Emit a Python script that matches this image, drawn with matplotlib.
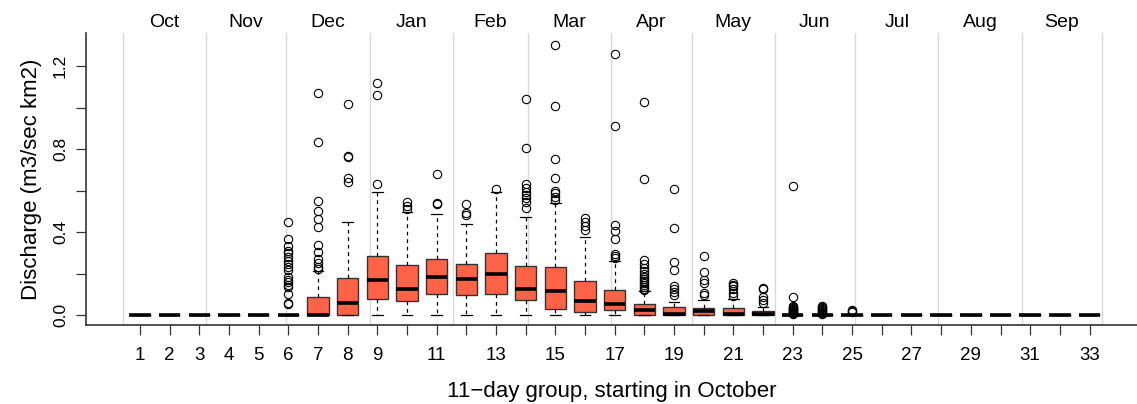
import numpy as np
import matplotlib
matplotlib.use('Agg')
from matplotlib import pyplot as plt

plt.rcParams['font.family'] = ['Liberation Sans', 'DejaVu Sans']

# 11-day groups, values (m3/sec km2)
groups = list(range(1, 34))
q1 = [0]*7 + [0.0, 0.077, 0.067, 0.103, 0.096, 0.100, 0.071, 0.029, 0.017, 0.024, 0.0, 0.0, 0.0, 0.0, 0.0] + [0]*11
med = [0]*7 + [0.056, 0.169, 0.124, 0.182, 0.173, 0.198, 0.124, 0.117, 0.067, 0.051, 0.024, 0.005, 0.019, 0.004, 0.003] + [0]*11
q3 = [0]*6 + [0.088, 0.180, 0.284, 0.239, 0.271, 0.247, 0.300, 0.236, 0.233, 0.164, 0.119, 0.051, 0.037, 0.032, 0.034, 0.020] + [0]*11
whis_hi = [0]*6 + [0.214, 0.447, 0.593, 0.495, 0.485, 0.439, 0.593, 0.473, 0.538, 0.377, 0.262, 0.116, 0.064, 0.072, 0.078, 0.040] + [0]*11

outliers = {
    6: [0.447, 0.365, 0.334, 0.310, 0.297, 0.281, 0.262, 0.244, 0.233, 0.215, 0.185, 0.169, 0.158, 0.145, 0.136, 0.100, 0.059, 0.053],
    7: [1.071, 0.835, 0.551, 0.503, 0.461, 0.426, 0.337, 0.305, 0.270, 0.249, 0.230, 0.220],
    8: [1.017, 0.766, 0.763, 0.659, 0.643],
    9: [1.120, 1.060, 0.631],
    10: [0.546, 0.525, 0.510],
    11: [0.678, 0.541, 0.537],
    12: [0.534, 0.493, 0.484],
    13: [0.610],
    14: [1.043, 0.805, 0.630, 0.612, 0.595, 0.580, 0.565, 0.546, 0.515],
    15: [1.304, 1.006, 0.754, 0.663, 0.600, 0.590, 0.570, 0.554],
    16: [0.467, 0.448, 0.430, 0.410],
    17: [1.261, 0.911, 0.434, 0.405, 0.365, 0.294, 0.284, 0.276],
    18: [1.027, 0.655, 0.265, 0.245, 0.225, 0.210, 0.200, 0.185, 0.175, 0.165, 0.155, 0.145, 0.136, 0.128, 0.122],
    19: [0.606, 0.418, 0.257, 0.217, 0.141, 0.128, 0.112, 0.096],
    20: [0.286, 0.209, 0.169, 0.156, 0.108, 0.096],
    21: [0.156, 0.146, 0.138, 0.124, 0.104, 0.091],
    22: [0.132, 0.128, 0.088, 0.072, 0.056],
    23: [0.622, 0.088, 0.045, 0.040, 0.035, 0.030, 0.027, 0.024, 0.020, 0.017, 0.014, 0.011, 0.008, 0.005],
    24: [0.045, 0.040, 0.035, 0.030, 0.025, 0.020, 0.015, 0.010, 0.005],
    25: [0.024, 0.020, 0.016],
}

months = ['Oct', 'Nov', 'Dec', 'Jan', 'Feb', 'Mar', 'Apr', 'May', 'Jun', 'Jul', 'Aug', 'Sep']
month_days = [31, 30, 31, 31, 28, 31, 30, 31, 30, 31, 31, 30]

stats = []
for i, g in enumerate(groups):
    stats.append(dict(med=med[i], q1=q1[i], q3=q3[i], whislo=0.0, whishi=whis_hi[i],
                      fliers=outliers.get(g, [])))

fig = plt.figure(figsize=(11.37, 4.04), dpi=100)
ax = fig.add_axes([86/1137, 1-325/404, 1-86/1137, (325-33)/404])

# month separators
start = 0.42
scale = 33.0/365
bounds = start + scale*np.concatenate([[0], np.cumsum(month_days)])
for b in bounds:
    ax.axvline(b, color='#d9d9d9', lw=1, zorder=0)
for m, a, b in zip(months, bounds[:-1], bounds[1:]):
    ax.text((a+b)/2, 1.008, m, transform=ax.get_xaxis_transform(), ha='center', va='bottom',
            fontsize=14, clip_on=False)

ax.bxp(stats, positions=groups, widths=0.72, capwidths=0.36, patch_artist=True,
       boxprops=dict(facecolor='#FF6347', edgecolor='#333333', lw=1),
       medianprops=dict(color='black', lw=2.6, solid_capstyle='butt'),
       whiskerprops=dict(color='black', lw=0.9, linestyle=(0, (3, 3))),
       capprops=dict(color='black', lw=0.9),
       flierprops=dict(marker='o', markerfacecolor='none', markeredgecolor='black',
                       markersize=6, markeredgewidth=0.8))

ax.set_xlim(-0.82, 34.6)
ax.set_ylim(-0.048, 1.36)
ax.set_xticks(groups)
ax.set_xticklabels([str(g) if (g <= 9 or g % 2 == 1) else '' for g in groups], fontsize=13.5)
ax.set_yticks(np.arange(0, 1.21, 0.2))
ax.set_yticklabels(['0.0', '', '0.4', '', '0.8', '', '1.2'], rotation=90, va='center', fontsize=12.5)
ax.tick_params(axis='both', length=7, width=0.9, color='#333333')
ax.tick_params(axis='x', pad=9)
ax.tick_params(axis='y', pad=6)
for s in ['top', 'right']:
    ax.spines[s].set_visible(False)
for s in ['left', 'bottom']:
    ax.spines[s].set_color('#333333')
    ax.spines[s].set_linewidth(1.2)

ax.set_ylabel('Discharge (m3/sec km2)', fontsize=16, labelpad=8)
ax.set_xlabel('11\u2212day group, starting in October', fontsize=16, labelpad=12)

fig.savefig('out.png', dpi=100)
